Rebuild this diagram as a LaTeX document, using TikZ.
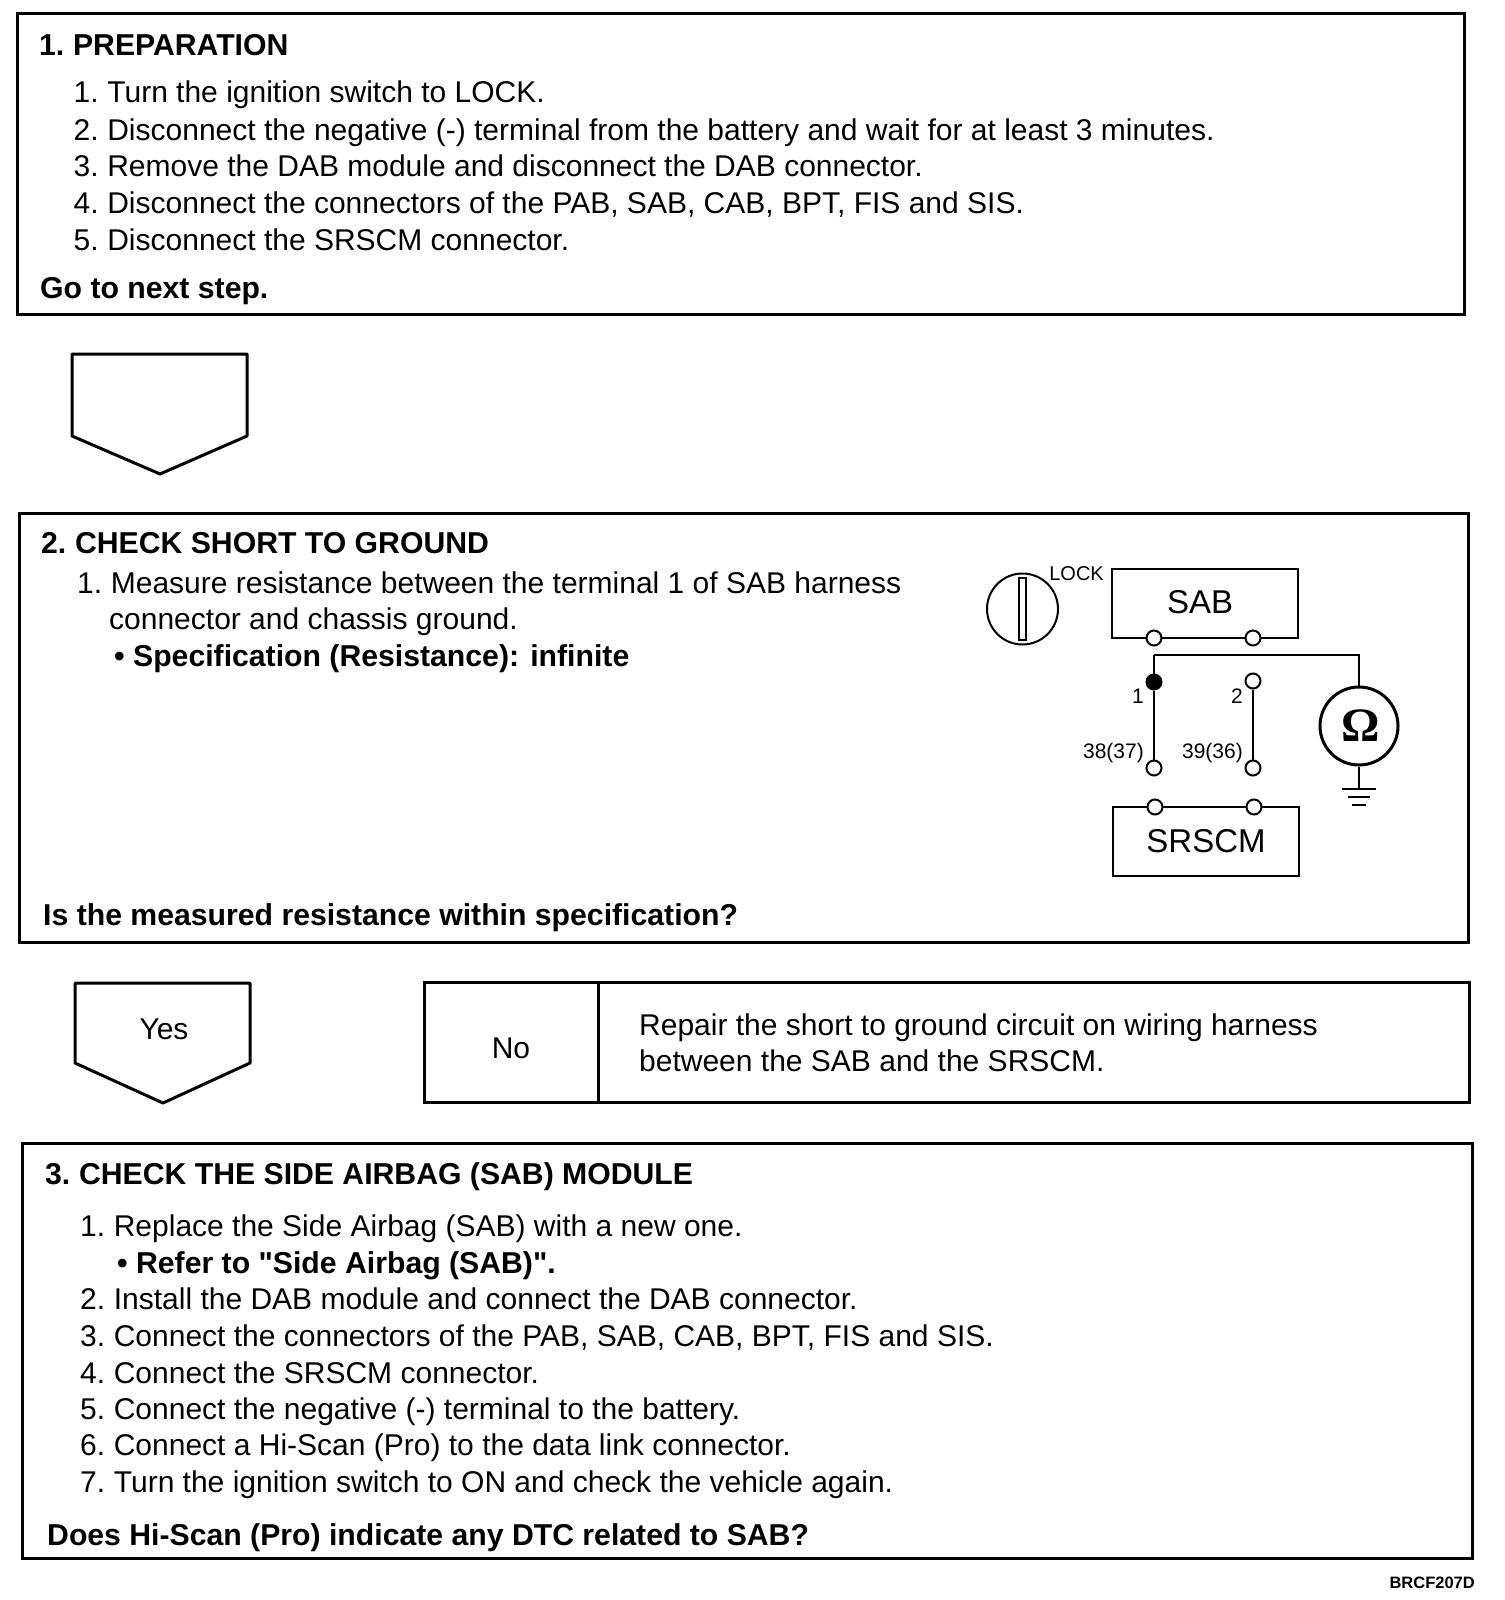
\documentclass[tikz,border=0pt]{standalone}
\usepackage{fontspec}
\setmainfont{Liberation Sans}[Ligatures=TeXOff]
\newfontfamily\omegafont{Liberation Serif}
\usetikzlibrary{positioning,calc}
\newcommand{\stepnum}[1]{#1.\hspace{-2.5pt} }
\begin{document}
\begin{tikzpicture}[x=1pt,y=-1pt,font=\fontsize{30}{36}\selectfont,node distance=0pt]
    \tikzset{
      stepbox/.style={draw=black,line width=3pt,fill=none,inner sep=0pt},
      line/.style={anchor=base west,inner sep=0pt,yshift=-1pt},
      heading/.style={line,font=\fontsize{30.2}{36}\selectfont\bfseries},
      schbox/.style={draw=black,line width=2.2pt,inner sep=0pt,minimum width=186pt,minimum height=69pt,font=\fontsize{33}{40}\selectfont},
      term/.style={circle,draw=black,line width=2pt,fill=white,inner sep=0pt,minimum size=15pt},
      small/.style={inner sep=0pt,font=\fontsize{21}{24}\selectfont},
      wire/.style={draw=black,line width=2.6pt},
      arrowbox/.style={draw=black,line width=3pt,line join=round}
    }
    \useasboundingbox (0,0) rectangle (1504,1600);
    % step boxes
    \node[stepbox,minimum width=1447pt,minimum height=300pt] (prep) at (741,164) {};
    \node[stepbox,minimum width=1449pt,minimum height=429pt] (short) at (744,727.5) {};
    \node[stepbox,minimum width=1450pt,minimum height=415pt] (module) at (747,1350.5) {};
    % step 1
    \node[heading] (prephead) at (39,55) {\stepnum{1}PREPARATION};
    \foreach \n/\y/\t in {1/102/{Turn the ignition switch to LOCK.},
      2/139/{Disconnect the negative (-) terminal from the battery and wait for at least 3 minutes.},
      3/175.5/{Remove the DAB module and disconnect the DAB connector.},
      4/212/{Disconnect the connectors of the PAB, SAB, CAB, BPT, FIS and SIS.},
      5/249/{Disconnect the SRSCM connector.}}
      \node[line] (prep\n) at (73.5,\y) {\stepnum{\n}\t};
    \node[heading] (prepnext) at (40,297) {Go to next step.};
    % arrows
    \draw[arrowbox] (72,354) -- (247,354) -- (247,436) -- (160,474) -- (72,436) -- cycle;
    \draw[arrowbox] (75,983) -- (250,983) -- (250,1063) -- (163,1103) -- (75,1063) -- cycle;
    \node[inner sep=0pt] (yes) at (164,1029) {Yes};
    % step 2
    \node[heading] (shorthead) at (41,552) {\stepnum{2}CHECK SHORT TO GROUND};
    \node[line] (short1) at (77,592) {\stepnum{1}Measure resistance between the terminal 1 of SAB harness};
    \node[line] (short1b) at (109,628.5) {connector and chassis ground.};
    \node[heading] (shortspec) at (114,665) {• Specification (Resistance): infinite};
    \node[heading] (shortq) at (43,924.5) {Is the measured resistance within specification?};
    % no box
    \node[stepbox,minimum width=1045pt,minimum height=120pt] (nobox) at (946.5,1042) {};
    \draw[line width=3pt] ($(nobox.north west)+(175.5,0)$) -- ($(nobox.south west)+(175.5,0)$);
    \node[inner sep=0pt] (no) at (511,1048) {No};
    \node[line] (repair1) at (639,1034) {Repair the short to ground circuit on wiring harness};
    \node[line] (repair2) at (639,1070) {between the SAB and the SRSCM.};
    % schematic
    \node[circle,draw=black,line width=2pt,minimum size=71pt,inner sep=0pt] (switch) at (1022.5,609) {};
    \node[draw=black,line width=1.5pt,minimum width=7pt,minimum height=62pt,inner sep=0pt] (slot) at (1022.5,609) {};
    \node[small,anchor=east,font=\fontsize{20}{24}\selectfont] (lock) at (1104,574) {LOCK};
    \node[schbox] (sab) at (1205,603.5) {};
    \node[inner sep=0pt,font=\fontsize{33}{40}\selectfont] (sablabel) at (1200,602) {SAB};
    \node[schbox] (srscm) at (1206,841.5) {SRSCM};
    \node[term] (sab1) at (1154,638) {};
    \node[term] (sab2) at (1253,638) {};
    \node[term,fill=black] (t1) at (1154,682) {};
    \node[term] (t2) at (1253,681) {};
    \node[term] (t38) at (1154,768) {};
    \node[term] (t39) at (1253,768) {};
    \node[term] (scm1) at (1155,807) {};
    \node[term] (scm2) at (1254,807) {};
    \node[circle,draw=black,line width=3pt,minimum size=78pt,inner sep=0pt,font=\fontsize{48}{56}\omegafont\bfseries] (meter) at (1359,726) {\hspace{3pt}Ω};
    \coordinate (gnd) at (1359,789);
    \coordinate (wiretop) at (1154,655);
    \draw[wire] (wiretop) -- (t1);
    \draw[wire] (t1) -- (t38);
    \draw[wire] (t2) -- (t39);
    \draw[wire] (wiretop) -| (meter.north);
    \draw[wire] (meter.south) -- (gnd);
    \draw[wire] ($(gnd)+(-17,0)$) -- ($(gnd)+(17,0)$);
    \draw[wire] ($(gnd)+(-11,8)$) -- ($(gnd)+(11,8)$);
    \draw[wire] ($(gnd)+(-7,16)$) -- ($(gnd)+(7,16)$);
    \node[small] (lab1) at (1138,696) {1};
    \node[small] (lab2) at (1237,696) {2};
    \node[small,anchor=east] (lab38) at (1144,753) {38(37)};
    \node[small,anchor=east] (lab39) at (1243,753) {39(36)};
    % step 3
    \node[heading] (modulehead) at (45,1183) {\stepnum{3}CHECK THE SIDE AIRBAG (SAB) MODULE};
    \node[line] (module1) at (80,1235) {\stepnum{1}Replace the Side Airbag (SAB) with a new one.};
    \node[heading] (modulerefer) at (117,1272) {• Refer to "Side Airbag (SAB)".};
    \foreach \n/\y/\t in {2/1308/{Install the DAB module and connect the DAB connector.},
      3/1345/{Connect the connectors of the PAB, SAB, CAB, BPT, FIS and SIS.},
      4/1382/{Connect the SRSCM connector.},
      5/1418/{Connect the negative (-) terminal to the battery.},
      6/1454/{Connect a Hi-Scan (Pro) to the data link connector.},
      7/1491/{Turn the ignition switch to ON and check the vehicle again.}}
      \node[line] (module\n) at (80,\y) {\stepnum{\n}\t};
    \node[heading] (moduleq) at (47,1544) {Does Hi-Scan (Pro) indicate any DTC related to SAB?};
    \node[small,anchor=east,font=\fontsize{16.5}{20}\selectfont\bfseries] (code) at (1475,1583) {BRCF207D};
\end{tikzpicture}
\end{document}
